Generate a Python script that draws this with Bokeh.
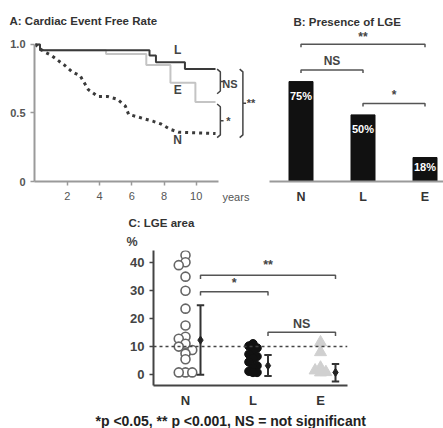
from bokeh.plotting import figure
from bokeh.layouts import column, row
from bokeh.models import FixedTicker, Span, Title
from bokeh.core.properties import value
from bokeh.embed import file_html
from bokeh.resources import INLINE

FONT = "Liberation Sans"
DARK = "#333333"
GRAY = "#9a9a9a"
LIGHT = "#c4c4c4"

# ---------------- data ----------------
# Panel A: Kaplan-Meier style event-free curves
L_years = [0, 0.3, 7.1, 7.5, 9.3, 11.2]
L_rate = [1.0, 0.957, 0.92, 0.87, 0.82, 0.82]
E_years = [0, 0.3, 4.4, 6.9, 8.4, 9.95, 11.2]
E_rate = [1.0, 0.957, 0.93, 0.85, 0.72, 0.58, 0.58]
N_years = [0, 0.5, 1.0, 1.8, 2.3, 2.8, 3.3, 3.9, 4.5, 5.1, 5.6, 5.8, 6.7, 7.3, 7.8, 8.4, 8.9, 11.2]
N_rate = [1.0, 0.95, 0.92, 0.85, 0.80, 0.77, 0.67, 0.62, 0.62, 0.60, 0.55, 0.49, 0.46, 0.44, 0.42, 0.38, 0.36, 0.35]
A_ticks = [2, 4, 6, 8, 10]
A_brackets = [  # (x, y_top, y_bottom, label)
    (11.5, 0.82, 0.64, "NS"),
    (11.5, 0.565, 0.32, "*"),
    (12.9, 0.82, 0.32, "**"),
]

# Panel B: presence of LGE (%)
groups = ["N", "L", "E"]
lge_presence = [75, 50, 18]
B_brackets = [  # (from idx, to idx, level %, label)
    (0, 2, 103, "**"),
    (0, 1, 83.7, "NS"),
    (1, 2, 58.5, "*"),
]

# Panel C: LGE area (%)
N_area = [42.5, 40, 39, 34.9, 29.9, 23.5, 17.5, 13.5, 12.8, 11, 10, 8.8, 7.5, 5.5, 0.8, 0.8, 0.8]
L_area = [11, 10.2, 9.5, 8.5, 7.3, 6.5, 5.8, 4.5, 3.2, 2.4, 1.2, 0.8, 0.8]
E_area = [11.5, 8, 2.5, 1.5, 0.9, 0.8]
area_mean = [12.3, 3.2, 0.8]
area_low = [0, -0.5, -2.4]
area_high = [24.7, 7.0, 3.8]
C_brackets = [  # (from idx, to idx, level %, label)
    (0, 2, 35.4, "**"),
    (0, 1, 29.5, "*"),
    (1, 2, 15.1, "NS"),
]
C_ticks = [0, 10, 20, 30, 40]


def base(p):
    p.toolbar_location = None
    p.xgrid.grid_line_color = None
    p.ygrid.grid_line_color = None
    p.outline_line_color = None
    p.background_fill_color = "white"
    p.border_fill_color = "white"
    return p


def style_axis(ax, color=GRAY, size="11px", bold=False, label_color="#555555"):
    ax.axis_line_color = color
    ax.axis_line_width = 2
    ax.major_tick_line_color = color
    ax.major_tick_line_width = 1.5
    ax.major_tick_in = 0
    ax.major_tick_out = 4
    ax.minor_tick_line_color = None
    ax.axis_label_standoff = 0
    ax.major_label_text_font = FONT
    ax.major_label_text_font_size = size
    ax.major_label_text_color = label_color
    ax.major_label_text_font_style = "bold" if bold else "normal"


TOP_H = 212

# ---------------- Panel A ----------------
pxA = 16.1
pA = base(figure(width=262, height=TOP_H, output_backend="svg", toolbar_location=None,
                 x_range=(-0.7 / pxA, -0.7 / pxA + 228 / pxA), y_range=(0, 152 / 138),
                 min_border_left=34, min_border_right=0, min_border_top=30, min_border_bottom=30))
pA.title.text = "A: Cardiac Event Free Rate"
pA.title.text_font = FONT
pA.title.text_font_size = "11.5px"
pA.title.text_color = DARK
pA.title.align = "left"
pA.title.offset = -25
pA.title.standoff = 8

pA.step(E_years, E_rate, mode="after", line_color=LIGHT, line_width=2)
pA.step(L_years, L_rate, mode="after", line_color="#3a3a3a", line_width=2)
pA.line(N_years, N_rate, line_color="#3a3a3a", line_width=3, line_dash="3 4")

pA.text(x=[8.85, 8.85, 8.85], y=[0.957, 0.667, 0.30], text=["L", "E", "N"],
        text_font=value(FONT), text_font_size="12px", text_font_style="bold",
        text_color="#444444", text_align="center", text_baseline="middle")

bx, by = [], []
for x, y0, y1, lab in A_brackets:
    ym = (y0 + y1) / 2
    bx.append([x - 0.2, x, x, x + 0.2, x, x, x - 0.2])
    by.append([y0, y0 - 0.02, ym, ym, ym, y1 + 0.02, y1])
pA.multi_line(bx, by, line_color="#444444", line_width=1.5)
pA.text(x=[b[0] + 0.6 if b[3] == "NS" else b[0] + 0.5 for b in A_brackets],
        y=[(b[1] + b[2]) / 2 - (0.02 if b[3] == "NS" else 0) for b in A_brackets],
        text=[b[3] for b in A_brackets],
        text_font=value(FONT), text_font_size="11px", text_font_style="bold",
        text_color="#444444", text_align="center", text_baseline="middle")

style_axis(pA.xaxis[0])
style_axis(pA.yaxis[0], bold=True)
pA.xaxis.ticker = FixedTicker(ticks=A_ticks)
pA.xaxis.bounds = (-0.17, 11.4)
pA.xaxis.major_label_standoff = 6
pA.yaxis.ticker = FixedTicker(ticks=[0, 0.5, 1.0])
pA.yaxis.major_label_overrides = {0: "0", 0.5: "0.5", 1: "1.0"}
pA.yaxis.bounds = (0, 1.0)
pA.add_layout(Title(text="years", text_font=FONT, text_font_size="11px", text_color="#555555",
                    text_font_style="normal", align="left", vertical_align="top",
                    offset=188, standoff=-24), "below")

# ---------------- Panel B ----------------
pxB = 62
pyB = 1.35
pB = base(figure(width=181, height=TOP_H, output_backend="svg", toolbar_location=None,
                 x_range=(-31.5 / pxB, -31.5 / pxB + 174 / pxB), y_range=(0, 153 / pyB),
                 min_border_left=7, min_border_right=0, min_border_top=28, min_border_bottom=31))
pB.title.text = "B: Presence of LGE"
pB.title.text_font = FONT
pB.title.text_font_size = "11.5px"
pB.title.text_color = DARK
pB.title.align = "left"
pB.title.offset = 24
pB.title.standoff = 6

idx = list(range(len(groups)))
pB.vbar(x=idx, top=lge_presence, width=24 / pxB, fill_color="#111111", line_color="#111111")
pB.text(x=idx, y=[v - min(10.5, v * 0.38) for v in lge_presence],
        text=[f"{v}%" for v in lge_presence],
        text_font=value(FONT), text_font_size="11px", text_font_style="bold",
        text_color="white", text_align="center", text_baseline="middle")
bx, by = [], []
for a, b, lev, lab in B_brackets:
    bx.append([a, a, b, b])
    by.append([lev - 2.2, lev, lev, lev - 2.2])
pB.multi_line(bx, by, line_color="#555555", line_width=1.5)
pB.text(x=[(a + b) / 2 for a, b, _, _ in B_brackets],
        y=[lev + (5.5 if lab == "**" else 6.5) for _, _, lev, lab in B_brackets],
        text=[lab for *_, lab in B_brackets],
        text_font=value(FONT), text_font_size="12px", text_font_style="bold",
        text_color="#444444", text_align="center", text_baseline="middle")
style_axis(pB.xaxis[0], size="12.5px", bold=True, label_color=DARK)
pB.xaxis.ticker = FixedTicker(ticks=idx)
pB.xaxis.major_label_overrides = {i: g for i, g in enumerate(groups)}
pB.xaxis.major_tick_line_color = None
pB.xaxis.major_tick_out = 0
pB.xaxis.major_label_standoff = 8
pB.yaxis.visible = False

# ---------------- Panel C ----------------
pxC = 67.5
pyC = 2.85
C_top = 250 - TOP_H
C_bottom = 428 - 387
pC = base(figure(width=443, height=428 - TOP_H, output_backend="svg", toolbar_location=None,
                 x_range=(-32 / pxC, -32 / pxC + 194 / pxC),
                 y_range=(-11 / pyC, 126 / pyC),
                 min_border_left=153, min_border_right=96, min_border_top=C_top,
                 min_border_bottom=C_bottom))
pC.add_layout(Title(text="%", text_font=FONT, text_font_size="12.5px", text_color="#444444",
                    align="left", offset=-27, standoff=4), "above")
pC.add_layout(Title(text="C: LGE area", text_font=FONT, text_font_size="11.5px",
                    text_color=DARK, align="left", offset=-25, standoff=4), "above")


def dodge(vals, step):
    offs, prev, k = [], None, 0
    seq = [0, -1, 1]
    for v in vals:
        if prev is not None and abs(v - prev) < 1.8:
            k += 1
        else:
            k = 0
        offs.append(seq[k % 3] * step)
        prev = v
    return offs


pC.scatter([0 + o for o in dodge(N_area, 0.1)], N_area, marker="circle", size=9,
           fill_color="white", line_color="#666666", line_width=1.6)
pC.scatter([1 + o for o in dodge(L_area, 0.06)], L_area, marker="circle", size=8.5,
           fill_color="#111111", line_color="#111111")
pC.scatter([2 + o for o in dodge(E_area, 0.08)], E_area, marker="triangle", size=12,
           fill_color="#d0d0d0", line_color="#d0d0d0")

eo = 15 / pxC
ex = [i + eo for i in idx]
pC.segment(x0=ex, y0=area_low, x1=ex, y1=area_high, line_color="#333333", line_width=2)
pC.segment(x0=[x - 0.055 for x in ex], y0=area_low, x1=[x + 0.055 for x in ex], y1=area_low,
           line_color="#333333", line_width=2)
pC.segment(x0=[x - 0.055 for x in ex], y0=area_high, x1=[x + 0.055 for x in ex], y1=area_high,
           line_color="#333333", line_width=2)
pC.scatter(ex, area_mean, marker="diamond", size=8, fill_color="#222222", line_color="#222222")

pC.add_layout(Span(location=10, dimension="width", line_color="#444444", line_width=1.5,
                   line_dash="3 3"))

bx, by = [], []
for a, b, lev, lab in C_brackets:
    bx.append([a + eo, a + eo, b + eo, b + eo])
    by.append([lev - 1.3, lev, lev, lev - 1.3])
pC.multi_line(bx, by, line_color="#555555", line_width=1.5)
pC.text(x=[(a + b) / 2 + eo for a, b, _, _ in C_brackets],
        y=[lev + (3.6 if lab == "**" else 3.0) for _, _, lev, lab in C_brackets],
        text=[lab for *_, lab in C_brackets],
        text_font=value(FONT), text_font_size="12.5px", text_font_style="bold",
        text_color="#444444", text_align="center", text_baseline="middle")

style_axis(pC.xaxis[0], color="#444444", size="13px", bold=True, label_color=DARK)
style_axis(pC.yaxis[0], color="#444444", size="13px", bold=True, label_color="#444444")
pC.xaxis.ticker = FixedTicker(ticks=idx)
pC.xaxis.major_label_overrides = {i: g for i, g in enumerate(groups)}
pC.xaxis.major_tick_line_color = None
pC.xaxis.major_tick_out = 0
pC.xaxis.major_label_standoff = 7
pC.yaxis.ticker = FixedTicker(ticks=C_ticks)
pC.add_layout(Title(text="*p <0.05, ** p <0.001, NS = not significant", text_font=FONT,
                    text_font_size="14px", text_color="#222222", align="left",
                    offset=-58, standoff=0), "below")

layout = column(row(pA, pB, spacing=0), pC, spacing=0)
open("out.html", "w").write(file_html(layout, INLINE))
